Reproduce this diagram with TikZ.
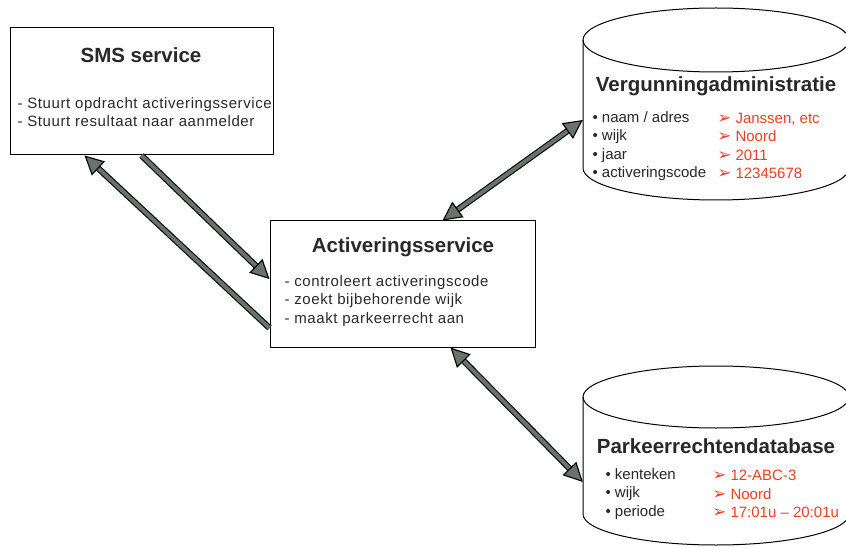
\documentclass[tikz,border=0pt]{standalone}
\usepackage{fontspec}
\setmainfont{Liberation Sans}
\newfontfamily\symfont{DejaVu Sans}
\newfontfamily\wijdfont[LetterSpace=4]{Liberation Sans}
\usetikzlibrary{arrows.meta}
\definecolor{flowgray}{RGB}{105,115,110}
\definecolor{valred}{RGB}{232,64,40}
\definecolor{inkgray}{RGB}{40,40,40}
\newcommand{\pijl}{{\symfont\fontsize{16.5}{18.5}\selectfont\char"27A2}}
\begin{document}
\begin{tikzpicture}[x=1pt,y=-1pt,text=inkgray,
    box/.style={draw,line width=1pt,minimum width=263pt,minimum height=127pt},
    title/.style={font=\fontsize{20.5}{24}\selectfont\bfseries},
    items/.style={font=\fontsize{15}{18.5}\selectfont,align=left,anchor=west},
    boxitems/.style={items,font=\wijdfont\fontsize{15}{18.5}\selectfont},
    vals/.style={items,text=valred},
    flow/.style={line width=1.1pt,double=flowgray,double distance=4pt,
      >={Triangle[length=19pt,width=19pt,fill=flowgray]}}]
  \useasboundingbox (0,0) rectangle (846,548);
  % boxes
  \node[box] (sms) at (141.5,91.5) {};
  \node[title] (smstitle) at (141,55) {SMS service};
  \node[boxitems] (smsitems) at (14,112) {- Stuurt opdracht activeringsservice\\- Stuurt resultaat naar aanmelder};
  \node[box,minimum width=265pt,minimum height=126pt] (act) at (402.5,284) {};
  \node[title] (acttitle) at (403,247) {Activeringsservice};
  \node[boxitems] (actitems) at (281,301) {- controleert activeringscode\\- zoekt bijbehorende wijk\\- maakt parkeerrecht aan};
  % databases
  \draw[line width=1pt,fill=white] (583,40) -- (583,168) arc[start angle=180,end angle=360,x radius=133pt,y radius=32pt] -- (849,40);
  \draw[line width=1pt] (716,40) ellipse[x radius=133pt,y radius=32pt];
  \node[minimum width=266pt,minimum height=160pt] (vga) at (716,120) {};
  \node[title] (vgatitle) at (716,86) {Vergunningadministratie};
  \node[items] (vgaitems) at (589,146) {• naam / adres\\• wijk\\• jaar\\• activeringscode};
  \node[vals] (vgavals) at (714,146) {\pijl\ Janssen, etc\\\pijl\ Noord\\\pijl\ 2011\\\pijl\ 12345678};
  \draw[line width=1pt,fill=white] (583,397) -- (583,514) arc[start angle=180,end angle=360,x radius=133pt,y radius=31pt] -- (849,397);
  \draw[line width=1pt] (716,397) ellipse[x radius=133pt,y radius=31pt];
  \node[minimum width=266pt,minimum height=148pt] (pdb) at (716,471) {};
  \node[title] (pdbtitle) at (716,446) {Parkeerrechtendatabase};
  \node[items] (pdbitems) at (602,494) {• kenteken\\• wijk\\• periode};
  \node[vals] (pdbvals) at (709,494) {\pijl\ 12-ABC-3\\\pijl\ Noord\\\pijl\ 17:01u -- 20:01u};
  % arrows
  \draw[flow,->] (sms.south) -- ([yshift=5pt]act.west);
  \draw[flow,->] ([yshift=-44pt]act.west) -- ([xshift=-57pt]sms.south);
  \draw[flow,<->] ([xshift=40pt]act.north) -- (vga.west);
  \draw[flow,<->] ([xshift=48pt]act.south) -- ([yshift=-11pt]pdb.west);
\end{tikzpicture}
\end{document}
